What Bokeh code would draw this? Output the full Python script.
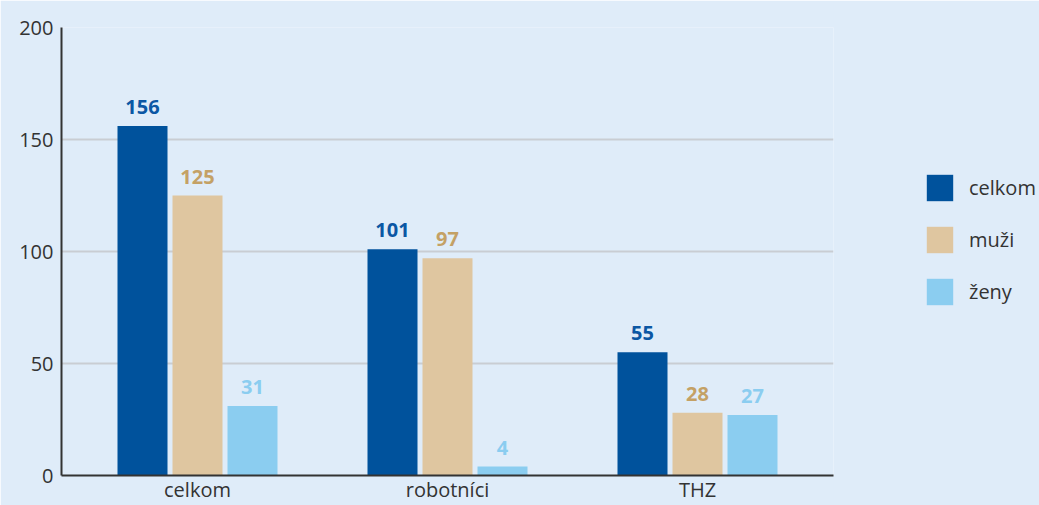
from bokeh.plotting import figure
from bokeh.models import ColumnDataSource, FactorRange, Range1d, Legend, LegendItem, FixedTicker
from bokeh.transform import dodge
from bokeh.core.properties import value
from bokeh.embed import file_html
from bokeh.resources import INLINE

categories = ["celkom", "robotníci", "THZ"]
series_names = ["celkom", "muži", "ženy"]
celkom = [156, 101, 55]
muzi = [125, 97, 28]
zeny = [31, 4, 27]
y_ticks = [0, 50, 100, 150, 200]

bar_colors = ["#00529C", "#DFC6A0", "#8BCDF0"]
label_colors = ["#0B57A4", "#C4A165", "#8BCDF0"]
offsets = [-0.22, 0.0, 0.22]
FONT = "Open Sans"
bg = "#DFECF9"

p = figure(frame_width=772, frame_height=448,
           x_range=FactorRange(factors=categories, range_padding=0.044,
                               range_padding_units="absolute"),
           y_range=Range1d(0, 200),
           output_backend="svg", toolbar_location=None,
           min_border_left=61, min_border_top=27, min_border_right=206,
           min_border_bottom=0)
p.background_fill_color = bg
p.border_fill_color = bg
p.outline_line_color = None

src = ColumnDataSource(dict(cat=categories, celkom=celkom, muzi=muzi, zeny=zeny,
                            l_celkom=[str(v) for v in celkom],
                            l_muzi=[str(v) for v in muzi],
                            l_zeny=[str(v) for v in zeny]))

items = []
for name, col, off, bc, lc in zip(series_names, ["celkom", "muzi", "zeny"], offsets,
                                  bar_colors, label_colors):
    r = p.vbar(x=dodge("cat", off, range=p.x_range), top=col, bottom=0, width=0.2,
               source=src, fill_color=bc, line_color=None)
    p.text(x=dodge("cat", off, range=p.x_range), y=col, text="l_" + col, source=src,
           text_color=lc, text_font=value(FONT), text_font_style="bold",
           text_font_size="20px", text_align="center", text_baseline="bottom",
           y_offset=-12)
    items.append(LegendItem(label=name, renderers=[r]))

legend = Legend(items=items, location=(90, 167), glyph_width=33, glyph_height=33,
                label_height=33, spacing=19, label_standoff=13, padding=0, margin=0,
                border_line_color=None, background_fill_alpha=0,
                label_text_font=FONT, label_text_font_size="20px",
                label_text_color="#333333")
p.add_layout(legend, "right")

p.xgrid.grid_line_color = None
p.ygrid.grid_line_color = "#C9CDD3"
p.ygrid.grid_line_width = 2
p.yaxis.ticker = FixedTicker(ticks=y_ticks)

for ax in (p.xaxis[0], p.yaxis[0]):
    ax.axis_line_color = "#333333"
    ax.axis_line_width = 2
    ax.major_tick_line_color = None
    ax.minor_tick_line_color = None
    ax.major_tick_out = 0
    ax.minor_tick_out = 0
    ax.major_label_text_font = FONT
    ax.major_label_text_font_size = "20px"
    ax.major_label_text_color = "#333333"
p.yaxis.major_label_standoff = 8
p.xaxis.major_label_standoff = 0

open("out.html", "w").write(file_html(p, INLINE))
